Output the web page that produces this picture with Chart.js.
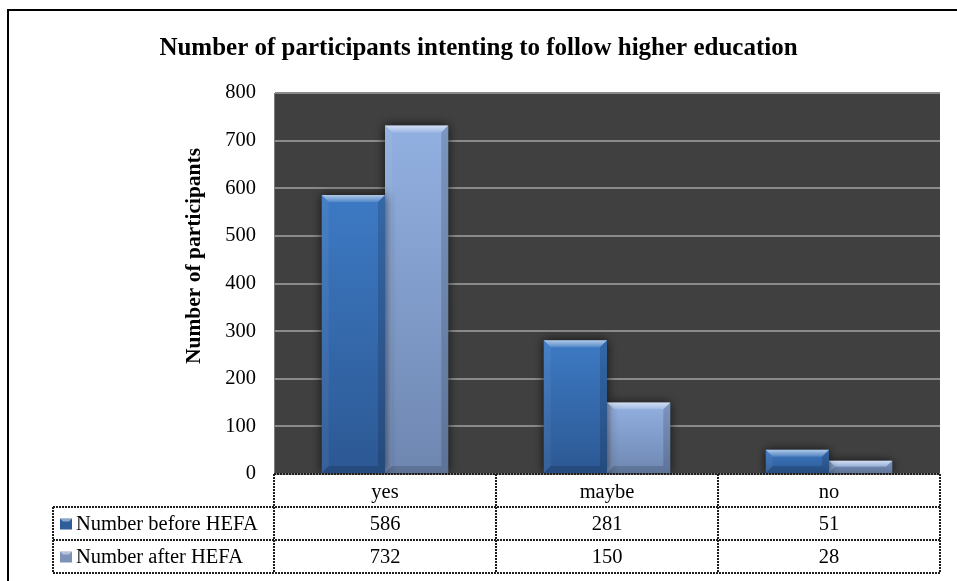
<!DOCTYPE html>
<html>
<head>
<meta charset="utf-8">
<title>Higher education intentions</title>
<script src="https://cdn.jsdelivr.net/npm/chart.js@4"></script>
<style>
  html, body { margin: 0; padding: 0; background: #fff; }
  #wrap { width: 957px; height: 581px; position: relative; }
</style>
</head>
<body>
<div id="wrap"><canvas id="hefaChart" width="957" height="581"></canvas></div>
<script>
// answers to "do you intend to follow higher education?"
const categories = ['yes', 'maybe', 'no'];
const beforeHefa = [586, 281, 51];
const afterHefa = [732, 150, 28];
const seriesNames = ['Number before HEFA', 'Number after HEFA'];
const yTicks = [0, 100, 200, 300, 400, 500, 600, 700, 800];

const SERIF = "'Liberation Serif', 'Times New Roman', serif";
const TEXT_SIZE = 20.5;
const ROW_H = 33;
const LEGEND_LEFT = 53;

// top / bottom colour of each series
const shades = [
    { top: '#3d7ac4', bottom: '#2c5893', mark: '#2f5d9a' },
    { top: '#92b0e1', bottom: '#6e87b1', mark: '#7d92b8' }
];

function barFill(i) {
    return function(c) {
        const chart = c.chart;
        const y = chart.scales.y;
        if (!chart.chartArea || !y || c.raw == null) return shades[i].top;
        const g = chart.ctx.createLinearGradient(0, y.getPixelForValue(c.raw), 0, chart.chartArea.bottom);
        g.addColorStop(0, shades[i].top);
        g.addColorStop(1, shades[i].bottom);
        return g;
    };
}

// dark plot background, soft shadow under the bars
const backdrop = {
    id: 'backdrop',
    beforeDraw(chart) {
        const { ctx, chartArea: a } = chart;
        ctx.save();
        ctx.fillStyle = '#404040';
        ctx.fillRect(a.left, a.top, a.right - a.left, a.bottom - a.top);
        ctx.restore();
    },
    beforeDatasetsDraw(chart) {
        const ctx = chart.ctx;
        ctx.save();
        ctx.shadowColor = 'rgba(0,0,0,0.75)';
        ctx.shadowBlur = 10;
    },
    afterDatasetsDraw(chart) {
        chart.ctx.restore();
    }
};

// bevelled edges on every bar
const bevel = {
    id: 'bevel',
    afterDatasetsDraw(chart) {
        const ctx = chart.ctx;
        ctx.save();
        chart.data.datasets.forEach((ds, di) => {
            chart.getDatasetMeta(di).data.forEach(bar => {
                const l = bar.x - bar.width / 2, r = bar.x + bar.width / 2;
                const t = bar.y, b = bar.base;
                const s = Math.min(7, (b - t) / 2);
                // top facet
                let g = ctx.createLinearGradient(0, t, 0, t + s);
                g.addColorStop(0, 'rgba(255,255,255,0.6)');
                g.addColorStop(1, 'rgba(255,255,255,0.12)');
                ctx.fillStyle = g;
                ctx.beginPath();
                ctx.moveTo(l, t); ctx.lineTo(r, t); ctx.lineTo(r - s, t + s); ctx.lineTo(l + s, t + s);
                ctx.closePath(); ctx.fill();
                // left facet
                ctx.fillStyle = 'rgba(255,255,255,0.05)';
                ctx.beginPath();
                ctx.moveTo(l, t); ctx.lineTo(l + s, t + s); ctx.lineTo(l + s, b - s); ctx.lineTo(l, b);
                ctx.closePath(); ctx.fill();
                // right facet
                ctx.fillStyle = 'rgba(0,0,0,0.15)';
                ctx.beginPath();
                ctx.moveTo(r, t); ctx.lineTo(r - s, t + s); ctx.lineTo(r - s, b - s); ctx.lineTo(r, b);
                ctx.closePath(); ctx.fill();
                // bottom facet
                ctx.fillStyle = 'rgba(0,0,0,0.15)';
                ctx.beginPath();
                ctx.moveTo(l, b); ctx.lineTo(l + s, b - s); ctx.lineTo(r - s, b - s); ctx.lineTo(r, b);
                ctx.closePath(); ctx.fill();
            });
        });
        ctx.restore();
    }
};

// data table under the plot, with legend keys in the first column
const dataTable = {
    id: 'dataTable',
    afterDraw(chart) {
        const { ctx, chartArea: a, scales: { x } } = chart;
        const half = (x.getPixelForValue(1) - x.getPixelForValue(0)) / 2;
        const top = a.bottom;
        const series = [beforeHefa, afterHefa];

        ctx.save();
        ctx.strokeStyle = '#1e1e1e';
        ctx.lineWidth = 2;
        ctx.setLineDash([2, 1]);

        function line(x1, y1, x2, y2) {
            ctx.beginPath();
            ctx.moveTo(x1, y1);
            ctx.lineTo(x2, y2);
            ctx.stroke();
        }

        // horizontal rules
        line(a.left, top, a.right, top);
        for (let r = 1; r <= 3; r++) line(LEGEND_LEFT, top + r * ROW_H, a.right, top + r * ROW_H);
        // vertical rules
        line(LEGEND_LEFT, top + ROW_H, LEGEND_LEFT, top + 3 * ROW_H);
        line(a.left, top, a.left, top + 3 * ROW_H);
        categories.forEach((c, i) => {
            const xr = x.getPixelForValue(i) + half;
            line(xr, top, xr, top + 3 * ROW_H);
        });
        ctx.setLineDash([]);

        ctx.font = TEXT_SIZE + 'px ' + SERIF;
        ctx.fillStyle = '#000';
        ctx.textBaseline = 'middle';
        series.forEach((vals, r) => {
            const cy = top + (r + 1.5) * ROW_H + 1;
            // legend key
            const kx = 60, ky = cy - 6, kw = 12, kh = 11;
            ctx.fillStyle = shades[r].mark;
            ctx.fillRect(kx, ky, kw, kh);
            ctx.fillStyle = 'rgba(255,255,255,0.45)';
            ctx.beginPath();
            ctx.moveTo(kx, ky); ctx.lineTo(kx + kw, ky); ctx.lineTo(kx + kw - 3, ky + 3); ctx.lineTo(kx + 3, ky + 3);
            ctx.closePath(); ctx.fill();
            ctx.fillStyle = '#000';
            ctx.textAlign = 'left';
            ctx.fillText(seriesNames[r], 76, cy);
            ctx.textAlign = 'center';
            vals.forEach((v, i) => ctx.fillText(String(v), x.getPixelForValue(i), cy));
        });

        // y axis title
        ctx.save();
        ctx.translate(194, 256);
        ctx.rotate(-Math.PI / 2);
        ctx.font = 'bold 21.5px ' + SERIF;
        ctx.textAlign = 'center';
        ctx.fillText('Number of participants', 0, 0);
        ctx.restore();

        // outer frame
        ctx.strokeStyle = '#000';
        ctx.lineWidth = 2;
        ctx.beginPath();
        ctx.moveTo(8, chart.height);
        ctx.lineTo(8, 10);
        ctx.lineTo(chart.width, 10);
        ctx.stroke();
        ctx.restore();
    }
};

new Chart(document.getElementById('hefaChart'), {
    type: 'bar',
    data: {
        labels: categories,
        datasets: [
            { label: seriesNames[0], data: beforeHefa, backgroundColor: barFill(0) },
            { label: seriesNames[1], data: afterHefa, backgroundColor: barFill(1) }
        ]
    },
    options: {
        responsive: false,
        animation: false,
        events: [],
        categoryPercentage: 0.57,
        barPercentage: 1,
        layout: { padding: { left: 17, right: 17, top: 0, bottom: 0 } },
        plugins: {
            legend: { display: false },
            tooltip: { enabled: false },
            title: {
                display: true,
                text: 'Number of participants intenting to follow higher education',
                color: '#000',
                font: { family: SERIF, size: 25, weight: 'bold', lineHeight: 1.2 },
                padding: { top: 34, bottom: 29 }
            }
        },
        scales: {
            x: {
                grid: { display: false, drawTicks: false },
                border: { display: false },
                ticks: { color: '#000', font: { family: SERIF, size: TEXT_SIZE }, padding: 6 },
                afterFit(s) { s.height = 107; }
            },
            y: {
                min: 0,
                max: 800,
                afterBuildTicks(s) { s.ticks = yTicks.map(v => ({ value: v })); },
                grid: { color: '#8a8a8a', lineWidth: 2, drawTicks: false },
                border: { color: '#7a7a7a', width: 1 },
                ticks: { color: '#000', font: { family: SERIF, size: TEXT_SIZE }, padding: 18 },
                afterFit(s) { s.width = 257; }
            }
        }
    },
    plugins: [backdrop, bevel, dataTable]
});
</script>
</body>
</html>
